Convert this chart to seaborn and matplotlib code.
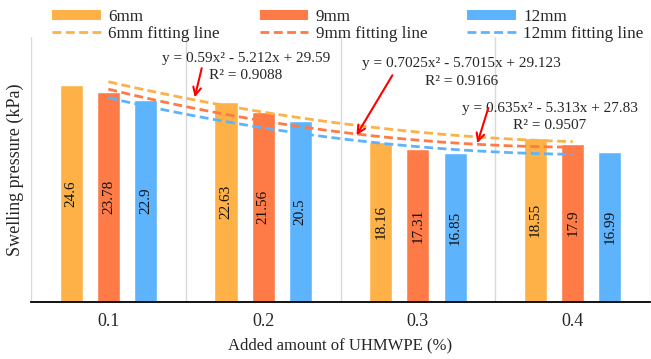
import matplotlib
matplotlib.use("Agg")
import matplotlib.pyplot as plt
from matplotlib.patches import Patch
from matplotlib.lines import Line2D
import numpy as np
import pandas as pd
import seaborn as sns

# data
amounts = ["0.1", "0.2", "0.3", "0.4"]
sizes = ["6mm", "9mm", "12mm"]
p_6mm = [24.6, 22.63, 18.16, 18.55]
p_9mm = [23.78, 21.56, 17.31, 17.9]
p_12mm = [22.9, 20.5, 16.85, 16.99]
label_6mm = ["24.6", "22.63", "18.16", "18.55"]
label_9mm = ["23.78", "21.56", "17.31", "17.9"]
label_12mm = ["22.9", "20.5", "16.85", "16.99"]

# quadratic fit coefficients (a, b, c), x = 1..4
fit_6mm = [0.59, -5.212, 29.59]
fit_9mm = [0.7025, -5.7015, 29.123]
fit_12mm = [0.635, -5.313, 27.83]
r2_values = ["0.9088", "0.9166", "0.9507"]
eq_texts = ["y = 0.59x² - 5.212x + 29.59",
            "y = 0.7025x² - 5.7015x + 29.123",
            "y = 0.635x² - 5.313x + 27.83"]

colors = {"6mm": "#FDB147", "9mm": "#FE7A47", "12mm": "#5DB4FD"}


def build_frame():
    rows = []
    for size, vals in zip(sizes, [p_6mm, p_9mm, p_12mm]):
        for amt, v in zip(amounts, vals):
            rows.append({"amount": amt, "size": size, "pressure": v})
    return pd.DataFrame(rows)


def main():
    sns.set_style("white")
    plt.rcParams["font.family"] = ["Liberation Serif", "DejaVu Serif"]

    df = build_frame()
    fig = plt.figure(figsize=(6.51, 3.59), dpi=100)
    ax = fig.add_axes([0.0476, 0.1588, 0.951, 0.7372])

    sns.barplot(data=df, x="amount", y="pressure", hue="size",
                order=amounts, hue_order=sizes, palette=colors,
                width=0.72, gap=0.38, saturation=1, ax=ax, legend=False)

    for cont, labels in zip(ax.containers, [label_6mm, label_9mm, label_12mm]):
        ax.bar_label(cont, labels=labels, label_type="center", rotation=90,
                     fontsize=11, color="#111111")

    # polynomial trend lines (Excel style, x = 1..4 at category centres)
    xs = np.linspace(1, 4, 100)
    for size, coef in zip(sizes, [fit_6mm, fit_9mm, fit_12mm]):
        ys = np.polyval(coef, xs)
        ax.plot(xs - 1, ys, color=colors[size], lw=2, dashes=(3.2, 1.6))

    ax.set_xlim(-0.5, len(amounts) - 0.5)
    ax.set_ylim(0, 30)
    ax.set_yticks([])
    ax.set_xticks(range(len(amounts)))
    ax.set_xticklabels(amounts, fontsize=13)
    ax.set_xticks(np.arange(-0.5, len(amounts)), minor=True)
    ax.tick_params(axis="x", which="both", length=0, pad=8)
    ax.grid(True, which="minor", axis="x", color="#d9d9d9", lw=1)
    for side in ["top", "right", "left"]:
        ax.spines[side].set_visible(False)
    ax.spines["bottom"].set_color("black")
    ax.spines["bottom"].set_linewidth(1.3)

    ax.set_xlabel("Added amount of UHMWPE (%)", fontsize=12, labelpad=5)
    ax.set_ylabel("Swelling pressure (kPa)", fontsize=13, labelpad=5)

    # equations with arrows
    eq_pos = [(0.887, 27.6), (2.28, 27.0), (2.85, 21.9)]
    arrow_tail = [(0.603, 26.5), (1.835, 25.7), (2.455, 22.0)]
    arrow_head = [(0.558, 23.2), (1.603, 18.9), (2.384, 18.0)]
    for txt, r2, (tx, ty) in zip(eq_texts, r2_values, eq_pos):
        ax.text(tx, ty, txt, ha="center", va="center", fontsize=11)
        ax.text(tx, ty - 1.95, "R² = " + r2, ha="center", va="center", fontsize=11)
    for (x0, y0), (x1, y1) in zip(arrow_tail, arrow_head):
        ax.annotate("", xy=(x1, y1), xytext=(x0, y0),
                    arrowprops=dict(arrowstyle="->", color="red", lw=1.5,
                                    mutation_scale=14, shrinkA=0, shrinkB=0))

    # legend
    handles, names = [], []
    for size in sizes:
        handles.append(Patch(facecolor=colors[size], edgecolor="none"))
        names.append(size)
        handles.append(Line2D([0], [0], color=colors[size], lw=2, dashes=(3.2, 1.6)))
        names.append(size + " fitting line")
    fig.legend(handles, names, ncol=3, loc="upper left",
               bbox_to_anchor=(0.08, 0.975), frameon=False, fontsize=12.3,
               handlelength=2.85, handleheight=0.55, columnspacing=2.35,
               labelspacing=0.05, handletextpad=0.42, borderpad=0,
               borderaxespad=0)

    fig.savefig("out.png", dpi=100)
    plt.close(fig)


if __name__ == "__main__":
    main()
